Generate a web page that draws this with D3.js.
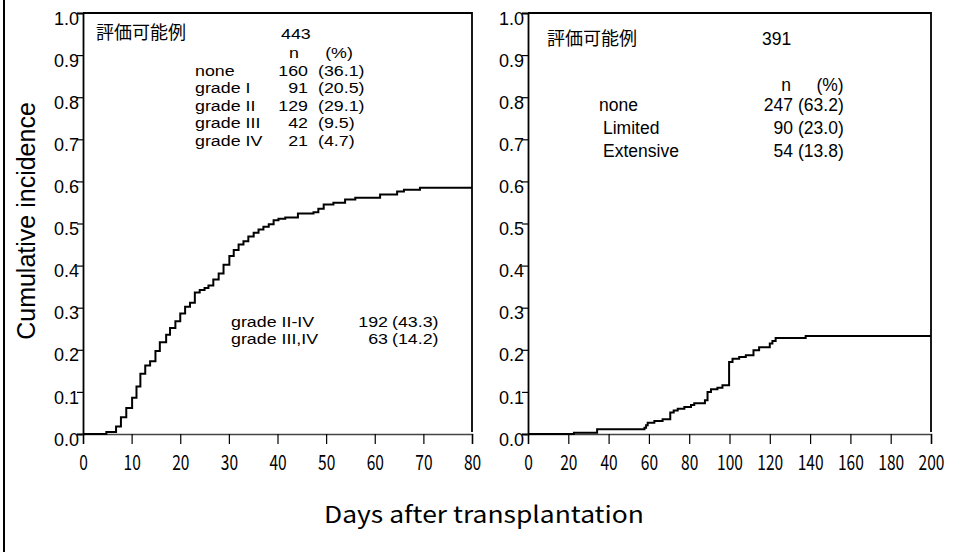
<!DOCTYPE html>
<html>
<head>
<meta charset="utf-8">
<script src="https://cdn.jsdelivr.net/npm/d3@7"></script>
<style>
  html, body { margin: 0; padding: 0; background: #fff; }
  svg { display: block; }
  .lat { font-family: "Liberation Sans", Arial, sans-serif; fill: #000; }
  .jp { font-family: "Noto Sans CJK JP", sans-serif; fill: #000; }
  .goth { font-family: "Noto Sans CJK JP", sans-serif; fill: #000; }
</style>
</head>
<body>
<script>
// Cumulative incidence step curves (day, incidence)
const acuteDays = [0, 4.8, 6.8, 7.8, 8.9, 10.1, 11, 11.8, 12.8, 13.8, 14.9, 15.8, 17.1, 17.9, 19, 20, 21, 22, 23, 24, 25, 25.8, 26.8, 27.9, 28.9, 30.1, 31, 32, 33, 34, 35.1, 36.1, 37.1, 38.2, 39.2, 40.2, 41.6, 44.2, 47.4, 48.4, 49.5, 51.5, 53.9, 56, 61.1, 64.6, 66, 69.3, 80];
const acuteCI = [0, 0.005, 0.018, 0.04, 0.062, 0.086, 0.113, 0.143, 0.163, 0.173, 0.197, 0.218, 0.236, 0.252, 0.268, 0.286, 0.302, 0.312, 0.336, 0.342, 0.347, 0.353, 0.367, 0.381, 0.402, 0.423, 0.437, 0.450, 0.458, 0.469, 0.478, 0.486, 0.492, 0.498, 0.508, 0.511, 0.514, 0.524, 0.527, 0.535, 0.545, 0.549, 0.557, 0.561, 0.569, 0.576, 0.580, 0.585, 0.585];

const chronicDays = [0, 22.8, 34.3, 57.8, 58.6, 59.4, 62.7, 66.8, 70.6, 72.3, 74.3, 77.6, 80.9, 82.5, 87.8, 89.1, 90.8, 94, 96.5, 99.8, 101.5, 104.8, 108.1, 111.9, 114.7, 120, 121.3, 122.9, 137.8, 200];
const chronicCI = [0, 0.003, 0.011, 0.015, 0.021, 0.027, 0.031, 0.035, 0.051, 0.056, 0.060, 0.064, 0.069, 0.073, 0.080, 0.100, 0.106, 0.110, 0.116, 0.171, 0.179, 0.183, 0.187, 0.199, 0.206, 0.215, 0.221, 0.228, 0.233, 0.233];

// Axis ticks
const yTicks = [0, 0.1, 0.2, 0.3, 0.4, 0.5, 0.6, 0.7, 0.8, 0.9, 1.0];
const acuteXTicks = [0, 10, 20, 30, 40, 50, 60, 70, 80];
const chronicXTicks = [0, 20, 40, 60, 80, 100, 120, 140, 160, 180, 200];

// Table annotations
const evalLabel = "評価可能例";
const acuteTotal = 443;
const acuteGroups = ["none", "grade I", "grade II", "grade III", "grade IV"];
const acuteN = [160, 91, 129, 42, 21];
const acutePct = ["36.1", "20.5", "29.1", "9.5", "4.7"];
const acuteSumGroups = ["grade II-IV", "grade III,IV"];
const acuteSumN = [192, 63];
const acuteSumPct = ["43.3", "14.2"];

const chronicTotal = 391;
const chronicGroups = ["none", "Limited", "Extensive"];
const chronicN = [247, 90, 54];
const chronicPct = ["63.2", "23.0", "13.8"];

const W = 966, H = 552;
const svg = d3.select("body").append("svg").attr("width", W).attr("height", H);

// page edge rule at the left
svg.append("line").attr("x1", 4).attr("x2", 4).attr("y1", 0).attr("y2", H)
  .attr("stroke", "#000").attr("stroke-width", 2);

const yTop = 13, yBot = 434;

function panel(x0, x1, maxDay, xTicks, days, ci) {
  const x = d3.scaleLinear().domain([0, maxDay]).range([x0, x1]);
  const y = d3.scaleLinear().domain([0, 1]).range([yBot, yTop]);
  const g = svg.append("g");

  // frame: top and right
  g.append("path")
    .attr("d", `M${x0},${yTop}H${x1}V${yBot - 2}`)
    .attr("fill", "none").attr("stroke", "#000").attr("stroke-width", 1.8);

  // y axis
  const ya = g.append("g").attr("transform", `translate(${x0},0)`)
    .call(d3.axisLeft(y).tickValues(yTicks).tickSize(6).tickPadding(0).tickFormat(d3.format(".1f")));
  ya.select(".domain").attr("stroke", "#000").attr("stroke-width", 1.8);
  ya.selectAll(".tick line").attr("stroke", "#000").attr("stroke-width", 1.2);
  ya.selectAll(".tick text")
    .attr("class", "lat").attr("font-size", 18).attr("x", -4).attr("dy", "0.62em")
    .attr("text-anchor", "end");

  // x axis
  const xa = g.append("g").attr("transform", `translate(0,${yBot})`)
    .call(d3.axisBottom(x).tickValues(xTicks).tickSize(10).tickPadding(11).tickFormat(d3.format("d")));
  xa.select(".domain").attr("stroke", "#444").attr("stroke-width", 1.6);
  xa.selectAll(".tick line").attr("stroke", "#000").attr("stroke-width", 1.2);
  xa.selectAll(".tick text")
    .attr("class", "goth").attr("font-size", 21)
    .attr("transform", "scale(0.74,1)");

  // step curve
  const pts = days.map((d, i) => [d, ci[i]]);
  g.append("path").datum(pts)
    .attr("d", d3.line().x(d => x(d[0])).y(d => y(d[1])).curve(d3.curveStepAfter))
    .attr("fill", "none").attr("stroke", "#000").attr("stroke-width", 2);

  return { x, y, g };
}

const A = panel(83, 472, 80, acuteXTicks, acuteDays, acuteCI);
const C = panel(528, 931, 200, chronicXTicks, chronicDays, chronicCI);

// text placed at (x, y), widened horizontally by sx
function txt(x, y, s, anchor, size, sx, cls) {
  return svg.append("text")
    .attr("transform", `translate(${x},${y}) scale(${sx || 1},1)`)
    .attr("text-anchor", anchor || "start")
    .attr("class", cls || "lat").attr("font-size", size).text(s);
}

// acute panel table
const aSize = 15.5, aSx = 1.15;
txt(96, 39, evalLabel, "start", 18, 1, "jp");
txt(281, 39, String(acuteTotal), "start", aSize, aSx);
txt(294, 57.5, "n", "middle", aSize, aSx);
txt(339, 57.5, "(%)", "middle", aSize, aSx);
const aRows = [75.5, 93, 110.5, 128, 145.5];
acuteGroups.forEach((gname, i) => {
  txt(195, aRows[i], gname, "start", aSize, aSx);
  txt(308, aRows[i], String(acuteN[i]), "end", aSize, aSx);
  txt(318, aRows[i], `(${acutePct[i]})`, "start", aSize, aSx);
});
const sRows = [326.5, 344];
acuteSumGroups.forEach((gname, i) => {
  txt(231, sRows[i], gname, "start", aSize, aSx);
  txt(388, sRows[i], String(acuteSumN[i]), "end", aSize, aSx);
  txt(392, sRows[i], `(${acuteSumPct[i]})`, "start", aSize, aSx);
});

// chronic panel table
const cSize = 17.5;
txt(547, 45, evalLabel, "start", 18, 1, "jp");
txt(762, 45, String(chronicTotal), "start", cSize);
txt(786, 91, "n", "middle", cSize);
txt(830, 91, "(%)", "middle", cSize);
const cRows = [111, 134, 157];
const cIndent = [599, 603, 603];
chronicGroups.forEach((gname, i) => {
  txt(cIndent[i], cRows[i], gname, "start", cSize);
  txt(793, cRows[i], String(chronicN[i]), "end", cSize);
  txt(798, cRows[i], `(${chronicPct[i]})`, "start", cSize);
});

// axis titles
svg.append("text")
  .attr("transform", "translate(35,221) rotate(-90)")
  .attr("text-anchor", "middle").attr("class", "lat").attr("font-size", 25)
  .text("Cumulative incidence");

svg.append("text")
  .attr("x", 484).attr("y", 523).attr("text-anchor", "middle")
  .attr("class", "goth").attr("font-size", 23)
  .attr("textLength", 320).attr("lengthAdjust", "spacingAndGlyphs")
  .text("Days after transplantation");
</script>
</body>
</html>
